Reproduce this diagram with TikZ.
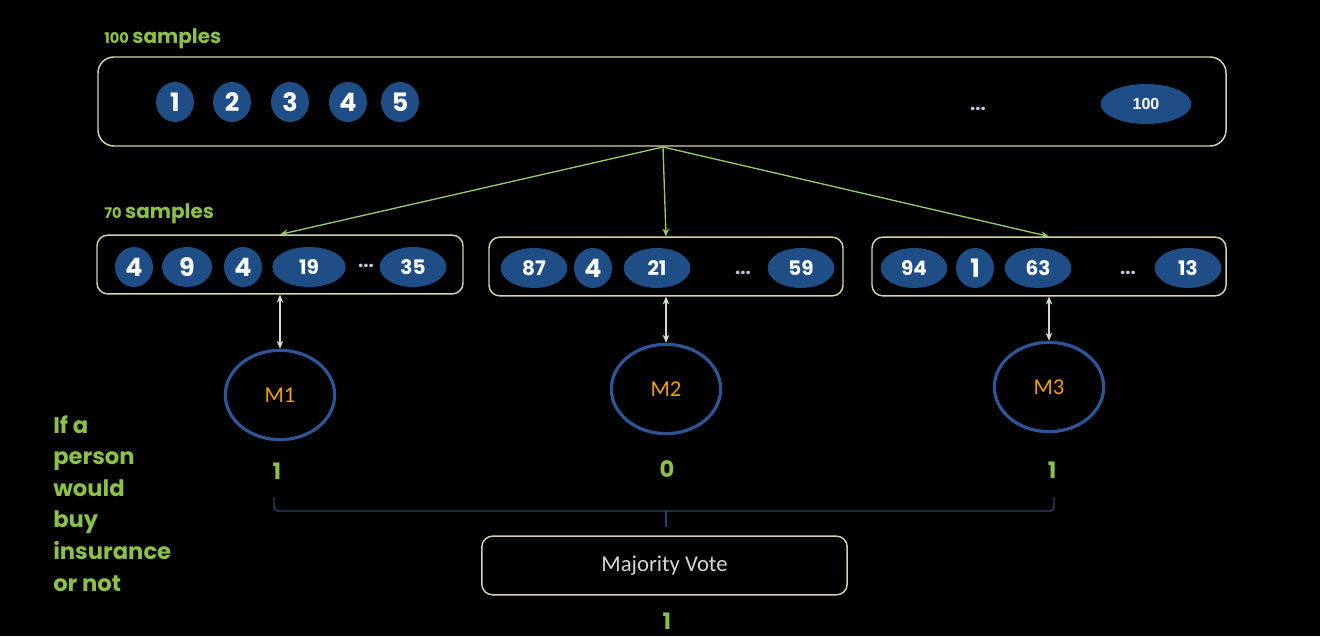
\documentclass[tikz,border=0pt]{standalone}
\usepackage{fontspec}
\setmainfont{Poppins}
\newfontfamily\calfont{Carlito}
\newfontfamily\arialfont{Liberation Sans}
\usetikzlibrary{shapes.geometric,arrows.meta}
\definecolor{lblgreen}{RGB}{141,192,72}
\definecolor{boxline}{RGB}{214,210,170}
\definecolor{ballblue}{RGB}{31,78,135}
\definecolor{ringblue}{RGB}{47,85,151}
\definecolor{modelorange}{RGB}{240,160,0}
\definecolor{linkgreen}{RGB}{150,200,110}
\definecolor{linkgray}{RGB}{215,215,215}
\definecolor{bracecol}{RGB}{40,65,110}
\definecolor{dotcol}{RGB}{190,200,225}
\definecolor{votetext}{RGB}{215,215,215}
\tikzset{
  group/.style={draw=boxline, line width=1.1pt, rounded corners=8pt},
  ball/.style={ellipse, fill=ballblue, inner sep=0pt, text=white,
               minimum width=#1, minimum height=40*0.75pt},
  ball/.default=28.5pt,
  bignum/.style={font=\bfseries\fontsize{19}{19}\selectfont},
  smallnum/.style={font=\bfseries\fontsize{15}{15}\selectfont},
  dots/.style={text=dotcol, font=\bfseries\fontsize{14}{14}\selectfont},
  heading/.style={anchor=base west, text=lblgreen, inner sep=0pt},
  model/.style={ellipse, draw=ringblue, line width=2.4pt, minimum width=82pt,
                minimum height=67pt, text=modelorange,
                font=\calfont\fontsize{17}{17}\selectfont},
  vote/.style={text=lblgreen, font=\bfseries\fontsize{17}{17}\selectfont, inner sep=0pt},
  split/.style={-{Stealth[length=6pt,width=5pt]}, draw=linkgreen, line width=1pt},
  link/.style={{Stealth[length=6pt,width=5pt]}-{Stealth[length=6pt,width=5pt]}, draw=linkgray, line width=0.9pt},
}
\begin{document}
\begin{tikzpicture}[x=0.75pt,y=-0.75pt]
\fill[black] (0,0) rectangle (1320,636);
\useasboundingbox (0,0) rectangle (1320,636);

% headings
\node[heading] (h100) at (104,43) {{\bfseries\fontsize{11}{11}\selectfont 100} {\bfseries\fontsize{15}{15}\selectfont samples}};
\node[heading] (h70) at (104,218) {{\bfseries\fontsize{11}{11}\selectfont 70} {\bfseries\fontsize{15}{15}\selectfont samples}};

% full data set
\draw[group, rounded corners=12pt] (98,57) rectangle (1226,146);
\coordinate (topout) at (663,147);
\node[ball, bignum] (t1) at (175,102) {1};
\node[ball, bignum] (t2) at (232,102) {2};
\node[ball, bignum] (t3) at (290,102) {3};
\node[ball, bignum] (t4) at (348,102) {4};
\node[ball, bignum] (t5) at (400,102) {5};
\node[dots] (tdots) at (978,109) {...};
\node[ball=68pt, minimum height=30pt, text=white, font=\arialfont\bfseries\fontsize{12}{12}\selectfont] (t100) at (1146,104) {100};

% bootstrap samples
\node[group, draw, minimum width=274.5pt, minimum height=44pt, inner sep=0pt] (b1) at (280,264.5) {};
\node[group, draw, minimum width=265.5pt, minimum height=44pt, inner sep=0pt] (b2) at (666,266.5) {};
\node[group, draw, minimum width=265.5pt, minimum height=44pt, inner sep=0pt] (b3) at (1049,266.5) {};

\node[ball, bignum] (a1) at (134,267) {4};
\node[ball=37.5pt, bignum] (a2) at (187,267) {9};
\node[ball, bignum] (a3) at (243,267) {4};
\node[ball=55pt, smallnum] (a4) at (309,267) {19};
\node[dots] (adots) at (366,266) {...};
\node[ball=50pt, smallnum] (a5) at (413,267) {35};

\node[ball=50pt, smallnum] (c1) at (534,268) {87};
\node[ball, bignum] (c2) at (593,268) {4};
\node[ball=50pt, smallnum] (c3) at (657,268) {21};
\node[dots] (cdots) at (743,273) {...};
\node[ball=50pt, smallnum] (c4) at (801,268) {59};

\node[ball=50pt, smallnum] (d1) at (914,268) {94};
\node[ball, bignum] (d2) at (975,268) {1};
\node[ball=50pt, smallnum] (d3) at (1038,268) {63};
\node[dots] (ddots) at (1128,273) {...};
\node[ball=50pt, smallnum] (d4) at (1188,268) {13};

\draw[split] (topout) -- (b1.north);
\draw[split] (topout) -- (b2.north);
\draw[split] (topout) -- (b3.north);

% models
\node[model] (m1) at (280,395) {M1};
\node[model] (m2) at (666,389) {M2};
\node[model] (m3) at (1049,387) {M3};
\draw[link] (b1.south -| m1.north) -- (m1.north);
\draw[link] (b2.south -| m2.north) -- (m2.north);
\draw[link] (b3.south -| m3.north) -- (m3.north);

% predictions
\node[vote] (v1) at (277,471) {1};
\node[vote] (v2) at (667,469) {0};
\node[vote] (v3) at (1052,470) {1};

% bracket collecting the predictions
\coordinate (brl) at (274,497);
\coordinate (brr) at (1054,497);
\coordinate (brm) at (666,527);
\draw[bracecol, line width=1pt, rounded corners=3pt]
  (brl) -- (274,511) -- (1054,511) -- (brr);
\draw[bracecol, line width=1pt] (666,511) -- (brm);

% aggregation
\node[group, draw, minimum width=274pt, minimum height=44pt, inner sep=0pt,
      text=votetext, font=\calfont\fontsize{17}{17}\selectfont] (mv) at (664.5,565.5) {Majority Vote};
\node[vote] (final) at (667,621) {1};

% question
\node[anchor=north west, text=lblgreen, align=left, inner sep=0pt,
      font=\bfseries\fontsize{17}{23.7}\selectfont] (q) at (53,415)
  {If a\\person\\would\\buy\\insurance\\or not};
\end{tikzpicture}
\end{document}
